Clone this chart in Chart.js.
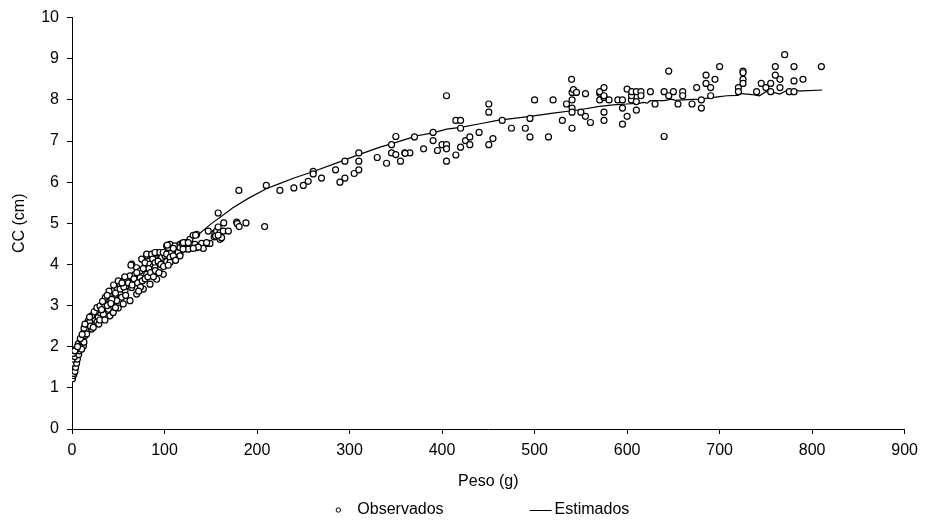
<!DOCTYPE html>
<html>
<head>
<meta charset="utf-8">
<script src="https://cdn.jsdelivr.net/npm/chart.js@4.4.1/dist/chart.umd.min.js"></script>
<style>
  html, body { margin: 0; padding: 0; background: #fff; }
</style>
</head>
<body>
<canvas id="grafico" width="925" height="522"></canvas>
<script>
// peso (g), CC (cm)
const observados = [
  [0.5,1.22],[1.4,1.3],[2.2,1.35],[1.4,1.44],[3.2,1.4],[2.2,1.54],[3.9,1.5],[1.4,1.6],[5.0,1.6],[1.4,1.7],
  [5.8,1.7],[2.9,1.76],[7.2,1.81],[1.4,1.84],[7.9,1.9],[4.3,1.94],[9.4,2.02],[12.3,2.02],[6.8,2.07],[10.4,2.15],
  [11.5,2.23],[14,2.27],[12.9,2.35],[15.8,2.4],[15.1,2.47],[17.6,2.43],[21.2,2.43],[18.7,2.53],[20.2,2.63],[23.1,2.59],
  [22.3,2.71],[24.8,2.67],[26.6,2.79],[28.4,2.71],[30.2,2.83],[25.9,2.87],[21.2,2.75],[17.6,2.63],[15.8,2.31],[12.9,2.11],
  [8.6,1.99],[5,1.94],[10.4,1.94],[3,1.9],[6,2.0],[9,2.2],[11,2.3],[13,2.45],[16,2.55],[19,2.6],
  [20,2.5],[23,2.47],[27,2.6],[29,2.55],[24,2.85],[27,2.95],[30,2.65],[19,2.72],[14,2.55],
  [30.3,2.99],[33.9,3.08],[37.4,3.16],[41.1,3.28],[44.7,3.36],[48.3,3.44],[51.9,3.52],[55.5,3.6],[59.1,3.64],[62.7,3.72],
  [35.7,2.99],[41.1,3.12],[46.5,3.24],[51.9,3.32],[53.6,3.2],[44.7,3.04],[39.3,2.91],[33.9,2.79],[48.3,3.12],[57.3,3.36],
  [59.1,3.48],[35.6,2.65],[41,2.75],[44.6,2.83],[50,2.94],[55.4,3.04],[32,2.9],[38,3.0],[43,3.15],[47,3.3],
  [52,3.4],[56,3.45],[58,3.25],[61,3.55],[36,3.2],[40,3.35],[45,3.5],[50,3.6],[54,3.55],[57,3.7],
  [33,3.1],[38,3.25],[42,3.05],[47,2.95],
  [62.7,3.12],[69.9,3.28],[77.1,3.4],[84.3,3.52],[91.5,3.64],[98.7,3.76],[66.3,3.6],[73.5,3.68],[80.7,3.76],[87.9,3.84],
  [95.1,3.92],[102.3,4.08],[64.5,3.44],[64.5,4.01],[63.7,3.98],[69.9,3.92],[73.5,3.84],[68.1,3.76],[75.3,4.13],[78.9,4.04],
  [84.3,4.01],[87.9,3.96],[93.3,4.08],[80.7,4.21],[80.7,4.25],[86.1,4.25],[91.5,4.25],[96.9,4.25],[87.2,4.13],[89.7,4.04],
  [89.7,3.92],[87.2,3.76],[91.5,4.29],[89.7,4.29],[95,4.29],[97,4.17],[93,4.08],[100.5,4.21],[98.6,4.29],[65,3.5],
  [67,3.65],[71,3.55],[74,3.45],[76,3.6],[79,3.65],[82,3.7],[83,3.9],[85,3.8],[88,3.7],[90,3.85],
  [94,3.8],[96,4.0],[99,3.95],[70,3.8],[77,3.9],[72,3.35],
  [102.3,4.25],[102.3,4.45],[105.9,4.49],[107.7,4.29],[109.5,4.17],[111.3,4.45],[113.1,4.33],[116.7,4.25],[116.7,4.49],[118.5,4.37],
  [122.1,4.53],[123.9,4.41],[127.5,4.61],[132.9,4.49],[134.7,4.41],[134.7,4.73],[104,4.41],[109.5,4.39],[105.9,4.17],[114.8,4.29],
  [116.7,4.21],[109.5,4.21],[116.7,4.41],[119,4.51],[124,4.51],[125.6,4.37],[120,4.37],[103,4.47],[131,4.71],[133.6,4.71],
  [120.3,4.53],[125.7,4.53],[140.1,4.51],[145.5,4.51],[149.1,4.51],[141.9,4.39],[136.5,4.42],[131.1,4.39],[147.3,4.81],[145.5,4.53],
  [106,4.05],[112,4.1],[104,3.98],
  [153.7,4.67],[154.5,4.77],[156.3,4.81],[158,4.91],[160,4.77],[163.5,4.81],[169,4.81],[155.2,4.69],[160,4.61],[161.7,4.65],
  [158,4.71],[158,5.25],[164,5.01],[178,5.03],[178.6,4.99],[180.7,4.92],[188,5.01],[208.2,4.92],[180.4,5.8],[210,5.92],
  [224.7,5.8],[239.8,5.86],[250,5.92],[255.3,6.02],[260.7,6.26],[260.7,6.2],[269.7,6.1],[284.9,6.3],[289.6,6.0],[295,6.1],
  [295,6.51],[305,6.21],[310,6.3],[310,6.51],[310,6.71],[329.9,6.6],[340,6.46],[345.4,6.91],[345.4,6.71],[350,7.11],
  [350,6.67],[355.1,6.51],[359.8,6.71],[365.2,6.71],[360,6.7],[370.2,7.1],[380,6.81],[390.3,7.21],[390.3,7.01],[395,6.77],
  [400,6.91],[404.8,6.91],[404.8,6.81],[404.8,6.51],[404.8,8.1],[414.9,6.66],[414.9,7.5],[420,7.5],[420,7.31],[420,6.85],
  [425.3,7.01],[430,7.1],[430,6.91],[440,7.21],[450.5,6.91],[450.5,7.9],[450.5,7.7],[455,7.06],[465,7.5],[475,7.31],
  [490,7.31],[495,7.55],[495,7.1],[500,8.0],[515,7.1],[520,8.0],[530,7.5],[534.5,7.9],[540.5,8.0],[540.5,8.18],
  [540.5,7.8],[540.5,7.7],[540.5,7.31],[540,8.5],[542,8.25],[545.3,8.18],[550,7.7],[555,8.15],[555,7.6],[560.4,7.45],
  [570.4,8.16],[570.4,8.2],[570.4,8.0],[575,8.06],[575,8.3],[575,8.1],[575,7.7],[575,7.5],[580.5,8.0],[590,8.0],
  [595,8.0],[595,7.8],[595,7.41],[600,8.26],[600,7.6],[604.7,8.0],[604.7,8.1],[605,8.2],[610,7.96],[610,8.2],
  [610,7.75],[615,8.2],[615,8.1],[625.2,8.2],[630.2,7.9],[640,8.2],[640,7.11],[645,8.7],[645,8.1],[650,8.2],
  [655,7.9],[660.1,8.2],[660.1,8.1],[670.2,7.9],[675.2,8.3],[680.3,8.0],[680.3,7.8],[685.3,8.6],[685.3,8.4],[690.3,8.3],
  [690.3,8.1],[695,8.5],[700,8.81],[720.3,8.3],[720.3,8.2],[725.3,8.7],[725.3,8.66],[725.3,8.5],[725.3,8.4],[740,8.2],
  [745,8.4],[750,8.3],[755.2,8.4],[755.2,8.2],[760.2,8.81],[760.2,8.6],[765.2,8.5],[765.2,8.3],[770.3,9.1],[775.3,8.2],
  [780.4,8.81],[780.4,8.46],[780.4,8.2],[790.1,8.5],[810,8.81]
];

const estimados = [
  [0.5,1.85],[2,1.95],[5,2.1],[10,2.32],[15,2.5],[20,2.65],[30,2.92],[40,3.15],[50,3.36],[60,3.55],
  [70,3.72],[80,3.88],[90,4.03],[100,4.17],[110,4.32],[120,4.47],[134,4.68],[150,4.98],[174,5.38],[190,5.6],
  [210,5.84],[225,5.97],[240,6.1],[261,6.26],[290,6.5],[310,6.67],[333,6.85],[345,6.93],[365,7.07],[369,7.11],
  [390,7.2],[405,7.29],[420,7.33],[441,7.42],[460,7.5],[495,7.6],[520,7.68],[549,7.76],[570,7.84],[585,7.88],
  [600,7.9],[614,7.92],[618,7.94],[622,7.92],[625,7.98],[640,7.98],[648,8.02],[652,7.99],[660,8.0],[678,8.02],
  [690,8.05],[700,8.08],[708,8.1],[720,8.11],[721,8.16],[735,8.13],[743,8.1],[750,8.2],[760,8.17],[765,8.14],
  [772,8.22],[790,8.22],[811,8.24]
];

const pesoMin = 0, pesoMax = 900, pesoStep = 100;
const ccMin = 0, ccMax = 10, ccStep = 1;

const fonte = { family: '"Liberation Sans", Arial, sans-serif', size: 16 };

// legend drawn under the axis title, like the original
const legendaAbaixo = {
  id: 'legendaAbaixo',
  afterDraw(chart) {
    const ctx = chart.ctx;
    const area = chart.chartArea;
    const y = chart.height - 12;
    const t1 = chart.data.datasets[0].label;
    const t2 = chart.data.datasets[1].label;
    ctx.save();
    ctx.font = '16px ' + fonte.family;
    ctx.fillStyle = '#000';
    ctx.strokeStyle = '#000';
    ctx.lineWidth = 1;
    ctx.textBaseline = 'middle';
    const w1 = ctx.measureText(t1).width;
    const w2 = ctx.measureText(t2).width;
    const total = 6 + 16 + w1 + 86 + 22 + 3 + w2;
    let x = (area.left + area.right) / 2 - total / 2 - 6;

    ctx.beginPath();
    ctx.arc(x + 3, y, 2.2, 0, Math.PI * 2);
    ctx.stroke();
    x += 6 + 16;
    ctx.fillText(t1, x, y);
    x += w1 + 86;

    ctx.beginPath();
    ctx.moveTo(x, y + 0.5);
    ctx.lineTo(x + 22, y + 0.5);
    ctx.stroke();
    x += 22 + 3;
    ctx.fillText(t2, x, y);
    ctx.restore();
  }
};

new Chart(document.getElementById('grafico'), {
  type: 'scatter',
  data: {
    datasets: [
      {
        label: 'Observados',
        data: observados.map(p => ({ x: p[0], y: p[1] })),
        pointStyle: 'circle',
        pointRadius: 3,
        pointBorderWidth: 1.2,
        pointBorderColor: '#000',
        pointBackgroundColor: '#fff'
      },
      {
        label: 'Estimados',
        type: 'line',
        data: estimados.map(p => ({ x: p[0], y: p[1] })),
        borderColor: '#000',
        borderWidth: 1.2,
        pointRadius: 0,
        tension: 0,
        fill: false
      }
    ]
  },
  options: {
    responsive: false,
    animation: false,
    devicePixelRatio: 1,
    layout: { padding: { top: 16, right: 20, bottom: 27, left: 0 } },
    plugins: {
      legend: { display: false },
      tooltip: { enabled: false }
    },
    scales: {
      x: {
        type: 'linear',
        min: pesoMin,
        max: pesoMax,
        afterFit: s => { s.height = 66; },
        border: { display: true, color: '#000', width: 1 },
        grid: { display: true, drawOnChartArea: false, drawTicks: true, tickLength: 5, color: '#000' },
        ticks: { stepSize: pesoStep, color: '#000', font: fonte, padding: 7, maxRotation: 0 },
        title: { display: true, text: 'Peso (g)', color: '#000', font: fonte, padding: { top: 4, bottom: 4 } }
      },
      y: {
        type: 'linear',
        min: ccMin,
        max: ccMax,
        afterFit: s => { s.width = 72; },
        border: { display: true, color: '#000', width: 1 },
        grid: { display: true, drawOnChartArea: false, drawTicks: true, tickLength: 5, color: '#000' },
        ticks: { stepSize: ccStep, color: '#000', font: fonte, padding: 8 },
        title: { display: true, text: 'CC (cm)', color: '#000', font: fonte, padding: { top: 10, bottom: 0 } }
      }
    }
  },
  plugins: [legendaAbaixo]
});
</script>
</body>
</html>
